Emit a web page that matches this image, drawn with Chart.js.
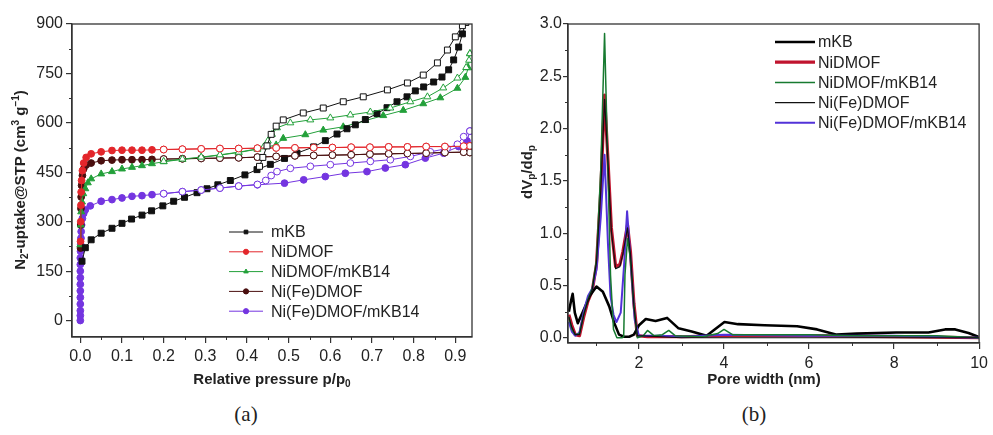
<!DOCTYPE html>
<html><head><meta charset="utf-8">
<script src="https://cdn.jsdelivr.net/npm/chart.js@4.4.1/dist/chart.umd.min.js"></script>
<style>
html,body{margin:0;padding:0;background:#fff;}
body{width:993px;height:435px;position:relative;overflow:hidden;}
#wa{position:absolute;left:0;top:0;width:500px;height:395px;}
#wb{position:absolute;left:500px;top:0;width:493px;height:395px;}
.cap{position:absolute;top:402px;font-family:"Liberation Serif","Times New Roman",serif;font-size:21px;color:#222;transform:translateX(-50%);}
</style></head>
<body>
<div id="wa"><canvas id="ca" width="500" height="395"></canvas></div>
<div id="wb"><canvas id="cb" width="493" height="395"></canvas></div>
<div class="cap" style="left:246px">(a)</div>
<div class="cap" style="left:754px">(b)</div>
<script>
// ---------- Panel (a): N2 isotherms, [p/p0, uptake] ----------
const isoNames = ['mKB','NiDMOF','NiDMOF/mKB14','Ni(Fe)DMOF','Ni(Fe)DMOF/mKB14'];
const isoXTicks = [0,0.1,0.2,0.3,0.4,0.5,0.6,0.7,0.8,0.9];
const isoYTicks = [0,150,300,450,600,750,900];
const isoXMinor = [0.05,0.15,0.25,0.35,0.45,0.55,0.65,0.75,0.85];
const isoYMinor = [75,225,375,525,675,825];

const mKBAds = [[0.004,180],[0.012,221],[0.026,245],[0.05,265],[0.076,280],[0.1,295],[0.123,308],[0.148,320],[0.171,333],[0.198,348],[0.224,362],[0.25,374],[0.28,388],[0.304,400],[0.33,412],[0.36,425],[0.395,442],[0.424,458],[0.456,474],[0.49,492],[0.52,508],[0.56,527],[0.588,546],[0.616,566],[0.64,582],[0.66,594],[0.684,610],[0.712,628],[0.736,646],[0.76,664],[0.784,679],[0.804,697],[0.824,709],[0.848,724],[0.868,739],[0.884,761],[0.896,791],[0.908,830],[0.917,870],[0.925,905]];
const mKBDes = [[0.925,905],[0.917,895],[0.9,861],[0.881,821],[0.857,782],[0.823,745],[0.785,721],[0.737,700],[0.679,679],[0.631,664],[0.583,645],[0.535,630],[0.487,609],[0.47,590],[0.458,565],[0.448,530],[0.438,495],[0.43,468]];

const niAds = [[0.0005,240],[0.001,300],[0.0015,350],[0.002,390],[0.003,425],[0.005,455],[0.008,478],[0.014,495],[0.026,506],[0.05,512],[0.076,516],[0.1,517],[0.124,517],[0.148,517],[0.172,518],[0.2,519],[0.245,520],[0.29,521],[0.335,522],[0.38,522],[0.425,523],[0.47,524],[0.515,524],[0.56,525],[0.605,525],[0.65,526],[0.695,526],[0.74,527],[0.785,527],[0.83,528],[0.875,528],[0.92,529],[0.935,530]];
const niDes = [[0.935,530],[0.92,529],[0.875,528],[0.83,528],[0.785,527],[0.74,527],[0.695,526],[0.65,526],[0.605,525],[0.56,525],[0.515,524],[0.47,524],[0.425,523],[0.38,522],[0.335,522],[0.29,521],[0.245,520],[0.2,519]];

const niKbAds = [[0,230],[0.001,290],[0.002,330],[0.004,360],[0.007,385],[0.012,400],[0.018,418],[0.026,430],[0.05,445],[0.076,452],[0.1,460],[0.124,465],[0.148,470],[0.172,476],[0.2,482],[0.245,489],[0.29,495],[0.335,502],[0.38,510],[0.425,520],[0.47,533],[0.487,553],[0.54,564],[0.583,578],[0.631,588],[0.684,607],[0.727,622],[0.775,638],[0.823,658],[0.864,676],[0.905,705],[0.924,738],[0.931,767],[0.935,810]];
const niKbDes = [[0.935,810],[0.933,790],[0.926,768],[0.905,736],[0.871,706],[0.833,679],[0.792,664],[0.744,645],[0.696,633],[0.648,624],[0.6,615],[0.552,609],[0.504,600],[0.472,585],[0.46,565],[0.45,545],[0.44,527],[0.425,521],[0.38,511],[0.335,503],[0.29,496],[0.245,490],[0.2,483]];

const feAds = [[0.0005,220],[0.001,290],[0.0015,340],[0.002,375],[0.003,410],[0.005,440],[0.008,460],[0.014,472],[0.026,478],[0.05,485],[0.076,487],[0.1,488],[0.124,488],[0.148,488],[0.172,489],[0.2,490],[0.245,491],[0.29,492],[0.335,493],[0.38,494],[0.425,496],[0.47,498],[0.515,500],[0.56,501],[0.605,502],[0.65,503],[0.695,505],[0.74,506],[0.785,507],[0.83,508],[0.875,510],[0.92,511],[0.935,510]];
const feDes = [[0.935,510],[0.92,511],[0.875,510],[0.83,508],[0.785,507],[0.74,506],[0.695,505],[0.65,503],[0.605,502],[0.56,501],[0.515,500],[0.47,498],[0.425,496],[0.38,494],[0.335,493],[0.29,492],[0.245,491],[0.2,490]];

const feKbAds = [[0,0],[0,15],[0,30],[0,50],[0,70],[0,90],[0,110],[0,130],[0,150],[0,170],[0,190],[0.0005,210],[0.001,230],[0.0015,250],[0.002,270],[0.003,290],[0.005,310],[0.008,325],[0.012,336],[0.024,348],[0.05,362],[0.076,367],[0.1,372],[0.124,377],[0.148,379],[0.172,382],[0.2,385],[0.245,391],[0.29,396],[0.335,402],[0.38,408],[0.425,412],[0.49,417],[0.536,427],[0.588,437],[0.636,447],[0.688,452],[0.732,463],[0.78,473],[0.828,493],[0.872,508],[0.908,528],[0.928,545],[0.935,575]];
const feKbDes = [[0.935,575],[0.92,558],[0.905,535],[0.88,522],[0.84,512],[0.792,498],[0.744,488],[0.696,483],[0.648,478],[0.6,473],[0.552,468],[0.504,462],[0.472,452],[0.458,440],[0.445,425],[0.425,413],[0.38,408],[0.335,402],[0.29,396],[0.245,391],[0.2,385]];

// ---------- Panel (b): pore size distribution, [width nm, dVp/ddp] ----------
const psdXTicks = [2,4,6,8,10];
const psdYTicks = [0,0.5,1.0,1.5,2.0,2.5,3.0];
const psdXMinor = [1,3,5,7,9];
const psdYMinor = [0.25,0.75,1.25,1.75,2.25,2.75];

const psdMKB = [[0.35,0.25],[0.4,0.35],[0.44,0.42],[0.49,0.24],[0.56,0.14],[0.67,0.24],[0.84,0.4],[1.0,0.49],[1.15,0.44],[1.3,0.3],[1.42,0.14],[1.53,0.03],[1.65,0.01],[1.77,0.01],[1.88,0.03],[2.0,0.12],[2.16,0.18],[2.39,0.16],[2.66,0.19],[2.93,0.09],[3.24,0.06],[3.59,0.02],[3.78,0.08],[4.01,0.15],[4.33,0.13],[4.95,0.12],[5.72,0.11],[6.19,0.08],[6.65,0.03],[7.12,0.04],[8.05,0.05],[8.81,0.05],[9.2,0.08],[9.44,0.08],[9.75,0.045],[9.98,0.01]];
const psdNi = [[0.35,0.22],[0.42,0.12],[0.5,0.03],[0.6,0.02],[0.7,0.2],[0.8,0.35],[0.9,0.45],[1.0,0.7],[1.1,1.4],[1.19,2.32],[1.27,1.7],[1.35,1.05],[1.45,0.68],[1.55,0.7],[1.62,0.82],[1.73,1.08],[1.8,0.82],[1.88,0.33],[1.96,0.02],[2.2,0.01],[3,0.01],[4,0.02],[6,0.02],[8,0.01],[10,0.0]];
const psdNiKb = [[0.35,0.2],[0.42,0.08],[0.5,0.03],[0.6,0.04],[0.7,0.22],[0.8,0.37],[0.9,0.47],[1.0,0.75],[1.1,1.6],[1.19,2.91],[1.27,1.6],[1.33,0.6],[1.4,0.08],[1.48,0.0],[1.6,0.0],[1.64,0.01],[1.67,0.6],[1.73,0.95],[1.8,0.75],[1.88,0.3],[1.96,0.0],[2.1,0.02],[2.2,0.07],[2.35,0.02],[2.55,0.03],[2.7,0.07],[2.85,0.02],[3.5,0.01],[3.85,0.04],[4.0,0.08],[4.2,0.03],[5,0.03],[6,0.03],[7,0.02],[9,0.02],[10,0.0]];
const psdFe = [[0.35,0.2],[0.42,0.1],[0.5,0.03],[0.6,0.03],[0.7,0.22],[0.8,0.36],[0.9,0.46],[1.0,0.72],[1.1,1.4],[1.19,2.28],[1.27,1.68],[1.35,1.02],[1.45,0.66],[1.55,0.68],[1.62,0.8],[1.73,1.05],[1.8,0.8],[1.88,0.3],[1.96,0.02],[3,0.0],[10,0.0]];
const psdFeKb = [[0.35,0.15],[0.42,0.06],[0.5,0.02],[0.6,0.05],[0.7,0.25],[0.8,0.4],[0.9,0.47],[1.0,0.65],[1.1,1.15],[1.19,1.75],[1.27,0.9],[1.33,0.4],[1.4,0.22],[1.47,0.15],[1.57,0.24],[1.65,0.7],[1.72,1.21],[1.8,0.75],[1.9,0.17],[2.0,0.02],[2.5,0.02],[3,0.01],[4,0.03],[6,0.02],[8,0.02],[10,0.0]];

// ---------- Axis title texts (segments: plain / sub / sup) ----------
const isoYTitle = [{t:'N'},{t:'2',sub:true},{t:'-uptake@STP (cm'},{t:'3',sup:true},{t:' g'},{t:'\u22121',sup:true},{t:')'}];
const isoXTitle = [{t:'Relative pressure p/p'},{t:'0',sub:true}];
const psdYTitle = [{t:'dV'},{t:'p',sub:true},{t:'/dd'},{t:'p',sub:true}];
const psdXTitle = [{t:'Pore width (nm)'}];

// ---------- Styling ----------
const FONT = '"Liberation Sans", Arial, "DejaVu Sans", sans-serif';
const TXT = '#222';
const AXC = '#333';
const isoColors = ['#111111','#e3262b','#23a03a','#4a0f0f','#7435e0'];
const isoShapes = ['rect','circle','triangle','circle','circle'];
const isoRadius = [4.2,3.4,4.0,3.4,3.4];
const psdColors = ['#000000','#c0142e','#177a30','#111111','#5232d8'];
const psdWidths = [2.6,3.2,1.5,1.2,2.0];
const psdOrder = [3,4,1,0,2];

const toXY = a => a.map(([x,y]) => ({x, y}));

function drawRich(ctx, segs, cx, cy, rot, size) {
  ctx.save();
  ctx.translate(cx, cy); ctx.rotate(rot);
  const fontFor = s => `bold ${(s.sub||s.sup) ? Math.round(size*0.68) : size}px ${FONT}`;
  let total = 0;
  const ws = segs.map(s => { ctx.font = fontFor(s); const w = ctx.measureText(s.t).width; total += w; return w; });
  let x = -total/2;
  ctx.textBaseline = 'middle'; ctx.textAlign = 'left'; ctx.fillStyle = TXT;
  segs.forEach((s,i) => {
    ctx.font = fontFor(s);
    const dy = s.sub ? size*0.3 : (s.sup ? -size*0.3 : 0);
    ctx.fillText(s.t, x, dy);
    x += ws[i];
  });
  ctx.restore();
}

const framePlugin = {
  id: 'frame',
  afterDraw(chart) {
    const {ctx, chartArea: a} = chart;
    ctx.save(); ctx.strokeStyle = AXC; ctx.lineWidth = 1.3;
    ctx.strokeRect(a.left, a.top, a.right - a.left, a.bottom - a.top);
    ctx.restore();
  }
};

const minorPlugin = {
  id: 'minorTicks',
  afterDraw(chart, args, opts) {
    const {ctx, chartArea: a, scales} = chart;
    ctx.save(); ctx.strokeStyle = AXC; ctx.lineWidth = 1;
    (opts.x || []).forEach(v => {
      const px = Math.round(scales.x.getPixelForValue(v)) + 0.5;
      ctx.beginPath(); ctx.moveTo(px, a.bottom); ctx.lineTo(px, a.bottom + opts.len); ctx.stroke();
    });
    (opts.y || []).forEach(v => {
      const py = Math.round(scales.y.getPixelForValue(v)) + 0.5;
      ctx.beginPath(); ctx.moveTo(a.left, py); ctx.lineTo(a.left - opts.len, py); ctx.stroke();
    });
    ctx.restore();
  }
};

const titlePlugin = {
  id: 'richTitles',
  afterDraw(chart, args, opts) {
    (opts.items || []).forEach(it => drawRich(chart.ctx, it.segs, it.x, it.y, it.rot || 0, it.size));
  }
};

const legendPlugin = {
  id: 'inLegend',
  afterDraw(chart, args, opts) {
    const ctx = chart.ctx;
    ctx.save();
    ctx.font = `${opts.fontSize}px ${FONT}`;
    ctx.textBaseline = 'middle'; ctx.textAlign = 'left';
    chart.data.datasets.forEach(ds => {
      if (ds.legendRow == null || ds.legendRow < 0) return;
      const y = opts.y + ds.legendRow * opts.rowH;
      ctx.strokeStyle = ds.borderColor; ctx.lineWidth = ds.borderWidth;
      ctx.beginPath(); ctx.moveTo(opts.x, y); ctx.lineTo(opts.x + opts.len, y); ctx.stroke();
      if (opts.marker) {
        ctx.fillStyle = ds.pointBackgroundColor; ctx.strokeStyle = ds.pointBorderColor; ctx.lineWidth = 1;
        if (Chart.helpers && Chart.helpers.drawPoint) {
          Chart.helpers.drawPoint(ctx, {pointStyle: ds.pointStyle, radius: opts.marker, borderWidth: 1, rotation: 0}, opts.x + opts.len/2, y);
        } else {
          ctx.beginPath(); ctx.arc(opts.x + opts.len/2, y, opts.marker, 0, Math.PI*2); ctx.fill();
        }
      }
      ctx.fillStyle = TXT;
      ctx.fillText(ds.label, opts.x + opts.len + opts.gap, y + 1);
    });
    ctx.restore();
  }
};

function axisCommon(ticksArr, fmt, pad, tickLen) {
  return {
    type: 'linear',
    afterBuildTicks: s => { s.ticks = ticksArr.map(v => ({value: v})); },
    ticks: {callback: v => fmt(v), font: {size: 16, family: FONT}, color: TXT, padding: pad, maxRotation: 0, autoSkip: false},
    grid: {drawOnChartArea: false, drawTicks: true, tickLength: tickLen, color: AXC, lineWidth: 1.2},
    border: {display: true, color: AXC, width: 1.3},
    title: {display: false}
  };
}

// ---------- Chart (a) ----------
const isoAds = [mKBAds, niAds, niKbAds, feAds, feKbAds];
const isoDes = [mKBDes, niDes, niKbDes, feDes, feKbDes];
const dsA = [];
isoNames.forEach((n, i) => {
  const c = isoColors[i];
  dsA.push({label: n, data: toXY(isoAds[i]), borderColor: c, backgroundColor: c,
    pointBackgroundColor: c, pointBorderColor: c, pointBorderWidth: 1, pointStyle: isoShapes[i],
    pointRadius: isoRadius[i], borderWidth: 1, order: 10 + i, legendRow: i, fill: false});
});
isoNames.forEach((n, i) => {
  const c = isoColors[i];
  dsA.push({label: n + ' (desorption)', data: toXY(isoDes[i]), borderColor: c, backgroundColor: '#fff',
    pointBackgroundColor: '#ffffff', pointBorderColor: c, pointBorderWidth: 1, pointStyle: isoShapes[i],
    pointRadius: isoRadius[i], borderWidth: 1, order: i, legendRow: -1, fill: false});
});

const xA = axisCommon(isoXTicks, v => v.toFixed(1), 4, 6);
xA.min = -0.02; xA.max = 0.94; xA.afterFit = s => { s.height = 58; };
const yA = axisCommon(isoYTicks, v => String(v), 3, 6);
yA.min = -50; yA.max = 900; yA.afterFit = s => { s.width = 72; };

new Chart(document.getElementById('ca'), {
  type: 'line',
  data: {datasets: dsA},
  options: {
    responsive: false, animation: false, devicePixelRatio: 1,
    layout: {padding: {top: 24, right: 28, left: 0, bottom: 0}},
    plugins: {
      legend: {display: false}, tooltip: {enabled: false},
      minorTicks: {x: isoXMinor, y: isoYMinor, len: 3},
      inLegend: {x: 229, y: 232, rowH: 19.8, len: 34, gap: 8, fontSize: 16, marker: 2.6},
      richTitles: {items: [
        {segs: isoYTitle, x: 21, y: 180, rot: -Math.PI/2, size: 15},
        {segs: isoXTitle, x: 272, y: 380, rot: 0, size: 15}
      ]}
    },
    scales: {x: xA, y: yA}
  },
  plugins: [framePlugin, minorPlugin, titlePlugin, legendPlugin]
});

// ---------- Chart (b) ----------
const psdSeries = [psdMKB, psdNi, psdNiKb, psdFe, psdFeKb];
const dsB = psdSeries.map((arr, i) => ({
  label: isoNames[i], data: toXY(arr), borderColor: psdColors[i], backgroundColor: psdColors[i],
  borderWidth: psdWidths[i], pointRadius: 0, order: psdOrder[i], legendRow: i, fill: false,
  borderJoinStyle: 'round'
}));

const xB = axisCommon(psdXTicks, v => String(v), 5, 6);
xB.min = 0.33; xB.max = 10; xB.afterFit = s => { s.height = 52; };
const yB = axisCommon(psdYTicks, v => v.toFixed(1), 1, 5);
yB.min = -0.05; yB.max = 3.0; yB.afterFit = s => { s.width = 68; };

new Chart(document.getElementById('cb'), {
  type: 'line',
  data: {datasets: dsB},
  options: {
    responsive: false, animation: false, devicePixelRatio: 1,
    layout: {padding: {top: 24, right: 9, left: 0, bottom: 0}},
    plugins: {
      legend: {display: false}, tooltip: {enabled: false},
      minorTicks: {x: psdXMinor, y: psdYMinor, len: 3},
      inLegend: {x: 275, y: 42, rowH: 20.2, len: 40, gap: 3, fontSize: 16, marker: 0},
      richTitles: {items: [
        {segs: psdYTitle, x: 28, y: 172, rot: -Math.PI/2, size: 15},
        {segs: psdXTitle, x: 264, y: 380, rot: 0, size: 15}
      ]}
    },
    scales: {x: xB, y: yB}
  },
  plugins: [framePlugin, minorPlugin, titlePlugin, legendPlugin]
});
</script>
</body></html>
